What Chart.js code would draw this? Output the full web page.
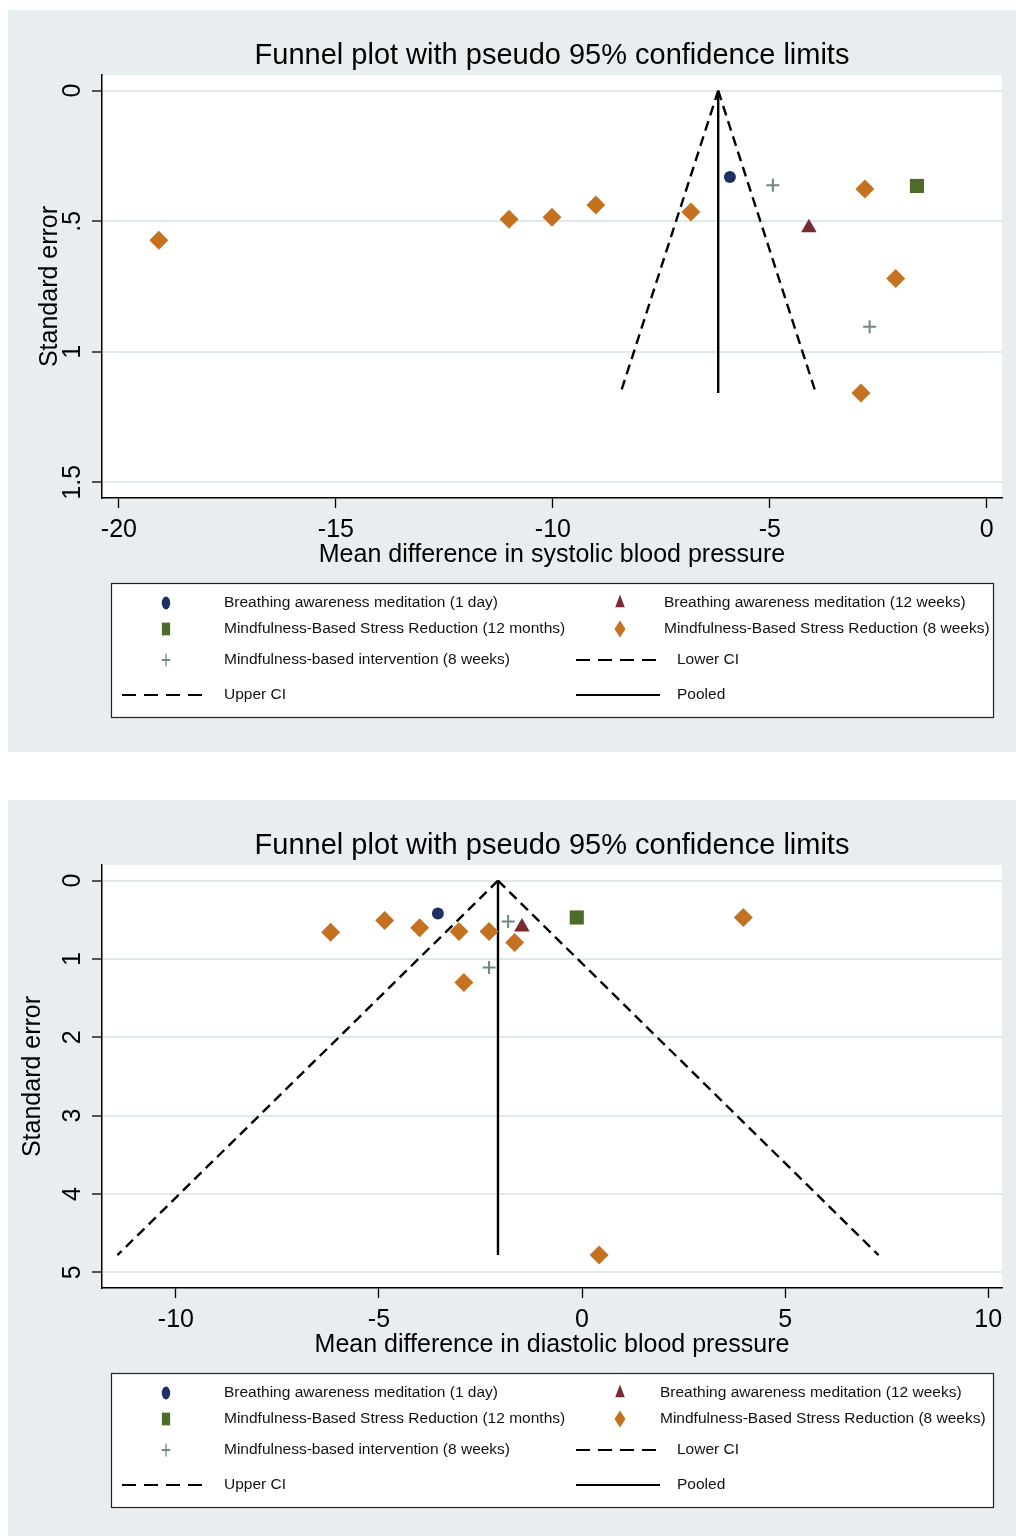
<!DOCTYPE html>
<html><head><meta charset="utf-8">
<script src="https://cdn.jsdelivr.net/npm/chart.js@4.4.1/dist/chart.umd.min.js"></script>
<style>
html,body{margin:0;padding:0;background:#fff;}
body{width:1016px;height:1536px;position:relative;overflow:hidden;}
.panel{position:absolute;left:8px;width:1008px;background:#e8edf0;}
#p1{top:10px;height:742px;}
#p2{top:800px;height:736px;}
canvas{display:block;}
</style></head><body>
<div class="panel" id="p1"><canvas id="c1" width="1008" height="742"></canvas></div>
<div class="panel" id="p2"><canvas id="c2" width="1008" height="736"></canvas></div>
<script>
// ---------- data ----------
const chartTitle = 'Funnel plot with pseudo 95% confidence limits';
const yTitle = 'Standard error';
const seriesLabels = [
  'Breathing awareness meditation (1 day)',
  'Breathing awareness meditation (12 weeks)',
  'Mindfulness-Based Stress Reduction (12 months)',
  'Mindfulness-Based Stress Reduction (8 weeks)',
  'Mindfulness-based intervention (8 weeks)',
  'Lower CI', 'Upper CI', 'Pooled'
];

// Systolic blood pressure (x = mean difference, y = standard error)
const sysXTitle = 'Mean difference in systolic blood pressure';
const sysBam1dMD = [-5.92];           const sysBam1dSE = [0.331];
const sysBam12wMD = [-4.10];          const sysBam12wSE = [0.525];
const sysMbsr12mMD = [-1.61];         const sysMbsr12mSE = [0.365];
const sysMbsr8wMD = [-19.08, -11.01, -10.02, -9.01, -6.82, -2.81, -2.10, -2.90];
const sysMbsr8wSE = [0.573, 0.492, 0.485, 0.438, 0.465, 0.377, 0.719, 1.158];
const sysMbi8wMD = [-4.93, -2.70];    const sysMbi8wSE = [0.362, 0.904];
const sysLowerMD = [-6.19, -8.44];
const sysUpperMD = [-6.19, -3.94];
const sysPooledMD = [-6.19, -6.19];
const sysLineSE = [0, 1.158];
const sysXTicks = [-20, -15, -10, -5, 0];
const sysYTicks = [0, 0.5, 1, 1.5];
const sysXRange = [-20.39, 0.35];
const sysYRange = [-0.06, 1.56];

// Diastolic blood pressure
const diaXTitle = 'Mean difference in diastolic blood pressure';
const diaBam1dMD = [-3.55];           const diaBam1dSE = [0.42];
const diaBam12wMD = [-1.48];          const diaBam12wSE = [0.59];
const diaMbsr12mMD = [-0.13];         const diaMbsr12mSE = [0.47];
const diaMbsr8wMD = [-6.19, -4.86, -4.00, -3.03, -2.29, -1.66, -2.91, 3.97, 0.42];
const diaMbsr8wSE = [0.66, 0.51, 0.60, 0.65, 0.65, 0.79, 1.30, 0.47, 4.78];
const diaMbi8wMD = [-1.82, -2.29];    const diaMbi8wSE = [0.52, 1.11];
const diaLowerMD = [-2.07, -11.44];
const diaUpperMD = [-2.07, 7.30];
const diaPooledMD = [-2.07, -2.07];
const diaLineSE = [0, 4.78];
const diaXTicks = [-10, -5, 0, 5, 10];
const diaYTicks = [0, 1, 2, 3, 4, 5];
const diaXRange = [-11.82, 10.34];
const diaYRange = [-0.2, 5.2];

// ---------- styles ----------
const FONT = '"Liberation Sans", Arial, Helvetica, sans-serif';
const COL = {navy:'#1d3160', maroon:'#7a2a31', green:'#4e6b29', orange:'#c4721f', teal:'#6a8a80', grid:'#e0e8ec', panel:'#e8edf0'};

const pts = (xs, ys) => xs.map((x, i) => ({x: x, y: ys[i]}));

function markerPath(ctx, style, r) {
  ctx.beginPath();
  if (style === 'circle') { ctx.arc(0, 0, r, 0, Math.PI * 2); }
  else if (style === 'triangle') {
    ctx.moveTo(0, -r); ctx.lineTo(0.866 * r, 0.5 * r); ctx.lineTo(-0.866 * r, 0.5 * r); ctx.closePath();
  } else if (style === 'rect') {
    const s = r * Math.SQRT1_2; ctx.rect(-s, -s, 2 * s, 2 * s);
  } else if (style === 'rectRot') {
    ctx.moveTo(-r, 0); ctx.lineTo(0, -r); ctx.lineTo(r, 0); ctx.lineTo(0, r); ctx.closePath();
  } else if (style === 'cross') {
    ctx.moveTo(0, -r); ctx.lineTo(0, r); ctx.moveTo(-r, 0); ctx.lineTo(r, 0);
  }
}

const plotBgPlugin = {
  id: 'plotBg',
  beforeDraw(chart) {
    const {ctx, chartArea: a} = chart;
    ctx.save();
    ctx.fillStyle = COL.panel; ctx.fillRect(0, 0, chart.width, chart.height);
    ctx.fillStyle = '#ffffff'; ctx.fillRect(a.left, a.top, a.right - a.left, a.bottom - a.top);
    ctx.restore();
  }
};

const stataLegendPlugin = {
  id: 'stataLegend',
  afterDraw(chart, args, o) {
    const ctx = chart.ctx;
    const dsets = chart.data.datasets;
    ctx.save();
    ctx.fillStyle = '#ffffff';
    ctx.fillRect(o.box[0], o.box[1], o.box[2], o.box[3]);
    ctx.strokeStyle = '#222'; ctx.lineWidth = 1.2;
    ctx.strokeRect(o.box[0] + 0.5, o.box[1] + 0.5, o.box[2], o.box[3]);
    ctx.font = '15.5px ' + FONT;
    ctx.textBaseline = 'middle'; ctx.textAlign = 'left';
    o.items.forEach(it => {
      const d = dsets[it.ds];
      const y = o.rows[it.row];
      const col = it.col === 1 ? o.col1 : o.col2;
      if (d.showLine) {
        ctx.save();
        ctx.strokeStyle = d.borderColor; ctx.lineWidth = 2;
        ctx.setLineDash(d.borderDash && d.borderDash.length ? [14, 8] : []);
        ctx.beginPath(); ctx.moveTo(col.line[0], y); ctx.lineTo(col.line[1], y); ctx.stroke();
        ctx.restore();
        ctx.fillStyle = '#111'; ctx.fillText(d.label, col.lineText, y);
      } else {
        ctx.save();
        ctx.translate(col.sym, y); ctx.scale(0.65, 1);
        markerPath(ctx, d.pointStyle, d.legendR);
        if (d.pointStyle === 'cross') { ctx.strokeStyle = d.borderColor; ctx.lineWidth = 2; ctx.stroke(); }
        else { ctx.fillStyle = d.backgroundColor; ctx.fill(); }
        ctx.restore();
        ctx.fillStyle = '#111'; ctx.fillText(d.label, col.text, y);
      }
    });
    ctx.restore();
  }
};

function makeChart(id, d) {
  const markerDS = (i, xs, ys, style, r, lr, color) => ({
    label: seriesLabels[i], data: pts(xs, ys), pointStyle: style, pointRadius: r, pointHoverRadius: r,
    backgroundColor: color, borderColor: color, borderWidth: style === 'cross' ? 2 : 0, legendR: lr, showLine: false
  });
  const lineDS = (i, xs, ys, dash) => ({
    label: seriesLabels[i], data: pts(xs, ys), showLine: true, pointRadius: 0, pointHoverRadius: 0,
    borderColor: '#000', backgroundColor: '#000', borderWidth: 2.4, borderDash: dash, fill: false, tension: 0
  });
  const datasets = [
    markerDS(0, d.bam1dMD, d.bam1dSE, 'circle', 6, 6.5, COL.navy),
    markerDS(1, d.bam12wMD, d.bam12wSE, 'triangle', 9, 8.5, COL.maroon),
    markerDS(2, d.mbsr12mMD, d.mbsr12mSE, 'rect', 10, 9, COL.green),
    markerDS(3, d.mbsr8wMD, d.mbsr8wSE, 'rectRot', 9.5, 8.5, COL.orange),
    markerDS(4, d.mbi8wMD, d.mbi8wSE, 'cross', 6.5, 6.5, COL.teal),
    lineDS(5, d.lowerMD, d.lineSE, [10, 6]),
    lineDS(6, d.upperMD, d.lineSE, [10, 6]),
    lineDS(7, d.pooledMD, d.lineSE, [])
  ];
  const canvas = document.getElementById(id);
  const H = canvas.height;
  const fmtY = v => (v === 0 ? '0' : (Math.abs(v) < 1 ? String(v).replace('0.', '.') : String(v)));
  return new Chart(canvas, {
    type: 'scatter',
    data: {datasets: datasets},
    plugins: [plotBgPlugin, stataLegendPlugin],
    options: {
      responsive: false, animation: false, devicePixelRatio: 1,
      layout: {padding: {left: 0, top: 0, right: 14, bottom: H - 560}},
      plugins: {
        legend: {display: false}, tooltip: {enabled: false},
        title: {display: true, text: chartTitle, fullSize: false, color: '#000',
                font: {family: FONT, size: 29, weight: 'normal', lineHeight: 1.2}, padding: {top: 28.6, bottom: 1.6}},
        stataLegend: {
          box: [103, 573, 882, 134], rows: [593, 619, 650, 685],
          col1: {sym: 158, text: 216, line: [114, 197], lineText: 216},
          col2: {sym: 612, text: d.col2Text, line: [568, 652], lineText: 669},
          items: [{ds:0,col:1,row:0},{ds:1,col:2,row:0},{ds:2,col:1,row:1},{ds:3,col:2,row:1},
                  {ds:4,col:1,row:2},{ds:5,col:2,row:2},{ds:6,col:1,row:3},{ds:7,col:2,row:3}]
        }
      },
      scales: {
        x: {
          type: 'linear', position: 'bottom', min: d.xRange[0], max: d.xRange[1],
          afterBuildTicks: ax => { ax.ticks = d.xTicks.map(v => ({value: v})); },
          afterFit: ax => { ax.height = 72; },
          grid: {display: true, drawOnChartArea: false, drawTicks: true, tickLength: 10, tickColor: '#000', tickWidth: 1.3},
          border: {display: true, color: '#000', width: 1.5},
          ticks: {color: '#000', font: {family: FONT, size: 25, lineHeight: 1.2}, padding: 7.5, maxRotation: 0, autoSkip: false,
                  callback: v => String(v)},
          title: {display: true, text: d.xTitle, color: '#000', font: {family: FONT, size: 25, lineHeight: 1.2}, padding: {top: 0, bottom: 0}}
        },
        y: {
          type: 'linear', position: 'left', reverse: true, min: d.yRange[0], max: d.yRange[1],
          afterBuildTicks: ax => { ax.ticks = d.yTicks.map(v => ({value: v})); },
          afterFit: ax => { ax.width = 94; },
          grid: {display: true, drawOnChartArea: true, color: COL.grid, lineWidth: 2, drawTicks: true, tickLength: 10, tickColor: '#000', tickWidth: 1.3},
          border: {display: true, color: '#000', width: 1.5},
          ticks: {color: '#000', font: {family: FONT, size: 25, lineHeight: 1.2}, padding: d.yTickPad, minRotation: 90, maxRotation: 90,
                  crossAlign: 'center', autoSkip: false, callback: fmtY},
          title: {display: true, text: yTitle, color: '#000', font: {family: FONT, size: 25, lineHeight: 1.2}, padding: {top: d.yTitlePad, bottom: 0}}
        }
      }
    }
  });
}

makeChart('c1', {
  bam1dMD: sysBam1dMD, bam1dSE: sysBam1dSE, bam12wMD: sysBam12wMD, bam12wSE: sysBam12wSE,
  mbsr12mMD: sysMbsr12mMD, mbsr12mSE: sysMbsr12mSE, mbsr8wMD: sysMbsr8wMD, mbsr8wSE: sysMbsr8wSE,
  mbi8wMD: sysMbi8wMD, mbi8wSE: sysMbi8wSE, lowerMD: sysLowerMD, upperMD: sysUpperMD, pooledMD: sysPooledMD,
  lineSE: sysLineSE, xTicks: sysXTicks, yTicks: sysYTicks, xRange: sysXRange, yRange: sysYRange,
  xTitle: sysXTitle, yTickPad: 1.3, yTitlePad: 27, col2Text: 656
});
makeChart('c2', {
  bam1dMD: diaBam1dMD, bam1dSE: diaBam1dSE, bam12wMD: diaBam12wMD, bam12wSE: diaBam12wSE,
  mbsr12mMD: diaMbsr12mMD, mbsr12mSE: diaMbsr12mSE, mbsr8wMD: diaMbsr8wMD, mbsr8wSE: diaMbsr8wSE,
  mbi8wMD: diaMbi8wMD, mbi8wSE: diaMbi8wSE, lowerMD: diaLowerMD, upperMD: diaUpperMD, pooledMD: diaPooledMD,
  lineSE: diaLineSE, xTicks: diaXTicks, yTicks: diaYTicks, xRange: diaXRange, yRange: diaYRange,
  xTitle: diaXTitle, yTickPad: 11.7, yTitlePad: 10, col2Text: 652
});
</script>
</body></html>
